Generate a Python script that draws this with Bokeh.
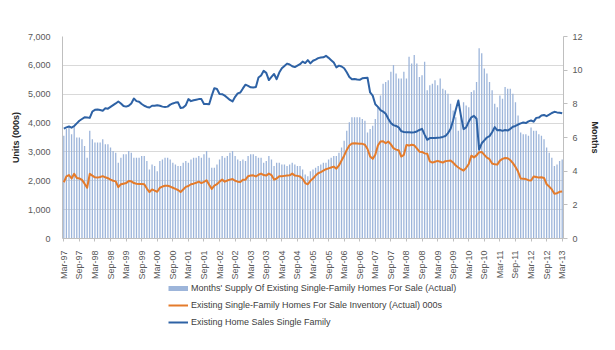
import pandas as pd
from bokeh.plotting import figure
from bokeh.layouts import column
from bokeh.models import (Range1d, LinearAxis, FixedTicker, Legend, LegendItem,
                          NumeralTickFormatter, ColumnDataSource)
from bokeh.embed import file_html
from bokeh.resources import INLINE

# ---------------- data ----------------
months = list(pd.date_range("1997-03-01", "2013-03-01", freq="MS").strftime("%b-%y"))

tick_labels = ["Mar-97", "Sep-97", "Mar-98", "Sep-98", "Mar-99", "Sep-99", "Mar-00", "Sep-00",
               "Mar-01", "Sep-01", "Mar-02", "Sep-02", "Mar-03", "Sep-03", "Mar-04", "Sep-04",
               "Mar-05", "Sep-05", "Mar-06", "Sep-06", "Mar-07", "Sep-07", "Mar-08", "Sep-08",
               "Mar-09", "Sep-09", "Mar-10", "Sep-10", "Mar-11", "Sep-11", "Mar-12", "Sep-12",
               "Mar-13"]

# Months' supply (right axis, months)
supply = [6.1, 6.5, 6.6, 6.2, 6.7, 6.0, 6.0, 5.9, 5.5, 4.8, 6.4, 5.9,
          5.7, 5.7, 5.7, 5.9, 5.6, 5.6, 5.4, 5.2, 5.1, 4.5, 4.8, 5.0,
          5.0, 5.2, 5.1, 4.8, 4.8, 4.8, 4.9, 4.9, 4.6, 4.1, 4.4, 4.3,
          4.0, 4.6, 4.7, 4.8, 4.8, 4.7, 4.5, 4.4, 4.3, 4.3, 4.5, 4.6,
          4.5, 4.7, 4.8, 4.8, 4.9, 4.8, 5.0, 5.2, 4.8, 4.2, 4.2, 4.4,
          4.7, 4.9, 4.8, 4.9, 5.1, 5.2, 4.9, 4.7, 4.6, 4.7, 4.6, 4.9,
          5.0, 5.0, 4.9, 4.8, 4.8, 4.5, 4.6, 4.9, 4.7, 4.3, 4.5, 4.5,
          4.4, 4.4, 4.3, 4.4, 4.5, 4.4, 4.3, 4.3, 4.1, 3.8, 3.7, 4.0,
          4.1, 4.2, 4.3, 4.4, 4.5, 4.5, 4.7, 4.8, 4.9, 4.9, 5.1, 5.4,
          5.8, 6.4, 6.9, 7.2, 7.2, 7.2, 7.2, 7.1, 7.0, 6.3, 6.5, 6.7,
          7.1, 7.8, 8.5, 9.2, 9.3, 9.4, 9.9, 10.3, 9.8, 9.5, 9.5, 9.9,
          9.5, 10.8, 10.4, 10.9, 10.4, 9.6, 9.7, 10.5, 8.8, 9.1, 9.2, 9.4,
          9.1, 9.5, 8.9, 8.8, 8.6, 8.0, 7.6, 7.2, 6.4, 7.3, 8.1, 7.9,
          7.8, 8.7, 8.8, 9.3, 11.3, 11.0, 10.1, 9.8, 9.3, 8.8, 8.0, 7.8,
          8.5, 8.3, 9.0, 8.9, 8.9, 8.6, 8.1, 7.3, 6.3, 6.2, 6.2, 6.1,
          6.6, 6.4, 6.4, 6.2, 6.1, 5.9, 5.4, 5.1, 4.8, 4.3, 4.4, 4.6,
          4.7]

# Existing single-family homes for sale inventory (000s, left axis)
inventory = [1950, 2150, 2200, 2080, 2240, 2100, 2080, 2030, 1900, 1760, 2240, 2180,
             2120, 2110, 2130, 2160, 2120, 2090, 2040, 2000, 1980, 1780, 1880, 1900,
             1920, 1990, 1980, 1920, 1900, 1890, 1890, 1880, 1730, 1610, 1700, 1660,
             1620, 1760, 1800, 1830, 1830, 1800, 1760, 1720, 1680, 1610, 1700, 1790,
             1820, 1880, 1900, 1930, 1970, 1920, 1960, 2020, 1860, 1720, 1830, 1880,
             1970, 2040, 1970, 2010, 2040, 2060, 2000, 1970, 1960, 2040, 2040, 2160,
             2180, 2190, 2150, 2210, 2250, 2200, 2180, 2250, 2200, 2040, 2080, 2160,
             2160, 2170, 2180, 2190, 2250, 2180, 2170, 2150, 2070, 1920, 1880, 2000,
             2080, 2180, 2260, 2300, 2350, 2400, 2430, 2460, 2490, 2420, 2530, 2700,
             2870, 3070, 3220, 3290, 3300, 3290, 3280, 3280, 3250, 3100, 2840, 2760,
             2900, 3220, 3360, 3370, 3300, 3360, 3260, 3130, 3080, 3060, 2840, 2900,
             3240, 3220, 3250, 3230, 3120, 3010, 3000, 2950, 2940, 2670, 2630, 2660,
             2690, 2660, 2630, 2680, 2690, 2700, 2630, 2530, 2460, 2400, 2350, 2450,
             2580, 2870, 2810, 2880, 2990, 3000, 2900, 2800, 2750, 2600, 2570, 2560,
             2700, 2760, 2790, 2780, 2720, 2610, 2480, 2320, 2080, 2070, 2060, 2020,
             2010, 2150, 2130, 2110, 2120, 2100, 1880, 1800, 1700, 1550, 1570, 1620,
             1630]

# Existing home sales, single family (000s, left axis)
sales = [3810, 3850, 3880, 3840, 3900, 3990, 4080, 4140, 4200, 4190, 4180, 4400,
         4460, 4470, 4450, 4430, 4510, 4500, 4560, 4620, 4680, 4750, 4680, 4590,
         4570, 4600, 4680, 4850, 4760, 4740, 4660, 4600, 4560, 4540, 4600, 4600,
         4620, 4600, 4570, 4560, 4570, 4640, 4680, 4710, 4720, 4520, 4540, 4620,
         4830, 4760, 4790, 4810, 4830, 4830, 4660, 4660, 4650, 4950, 5210, 5180,
         5010, 5000, 4950, 4880, 4800, 4750, 4910, 5030, 5060, 5200, 5330, 5290,
         5240, 5230, 5250, 5580, 5650, 5810, 5740, 5490, 5600, 5700, 5520, 5750,
         5900, 5980, 6060, 6030, 5970, 5940, 5990, 6040, 6130, 6080, 6180, 6070,
         6160, 6200, 6250, 6270, 6280, 6330, 6260, 6180, 6100, 5930, 5990, 5960,
         5900, 5760, 5600, 5520, 5530, 5510, 5500, 5550, 5560, 5570, 5060, 4950,
         4650, 4560, 4450, 4400, 4320, 4150, 4000, 3930, 3900, 3850, 3720, 3690,
         3680, 3680, 3670, 3680, 3710, 3760, 3800, 3600, 3420, 3480, 3480, 3480,
         3490, 3500, 3520, 3550, 3650, 3800, 4100, 4460, 4780, 4250, 3790, 3850,
         4050, 4200, 4250, 4150, 3080, 3300, 3400, 3500, 3550, 3680, 3860, 3750,
         3760, 3730, 3760, 3740, 3800, 3870, 3900, 3950, 3990, 4020, 4000, 4060,
         4090, 4050, 4180, 4190, 4260, 4280, 4240, 4290, 4350, 4390, 4370, 4360,
         4340]

# ---------------- styles ----------------
BAR = "#9DB5DA"
ORANGE = "#E47B2B"
BLUE = "#2E62A5"
FONT = "Liberation Sans"
AXIS_GRAY = "#BFBFBF"
LABEL_GRAY = "#595959"

idx = list(range(len(months)))
src = ColumnDataSource(dict(x=idx, month=months, supply=supply,
                            inventory=inventory, sales=sales))

# ---------------- main chart ----------------
p = figure(width=615, height=282,
           x_range=Range1d(-0.5, len(months) - 0.5),
           y_range=Range1d(0, 7000),
           min_border_left=62, min_border_right=52,
           min_border_top=36, min_border_bottom=44,
           output_backend="svg", toolbar_location=None)
p.extra_y_ranges = {"months": Range1d(0, 12)}

p.outline_line_color = None
p.background_fill_color = "white"
p.border_fill_color = "white"
p.xgrid.visible = False
p.ygrid.grid_line_color = "#D9D9D9"
p.ygrid.grid_line_width = 1

bars = p.vbar(x="x", top="supply", width=0.5, source=src, y_range_name="months",
              fill_color=BAR, line_color=None)
inv_line = p.line("x", "inventory", source=src, line_color=ORANGE, line_width=2,
                  line_join="round")
sales_line = p.line("x", "sales", source=src, line_color=BLUE, line_width=2,
                    line_join="round")

# x axis
xa = p.xaxis[0]
xa.ticker = FixedTicker(ticks=[i * 6 for i in range(len(tick_labels))])
xa.major_label_overrides = {i * 6: lab for i, lab in enumerate(tick_labels)}
xa.major_label_orientation = 1.5708
xa.major_label_text_font = FONT
xa.major_label_text_font_size = "9px"
xa.major_label_text_color = LABEL_GRAY
xa.major_label_standoff = 9
xa.axis_line_color = AXIS_GRAY
xa.major_tick_line_color = AXIS_GRAY
xa.major_tick_out = 3
xa.major_tick_in = 0
xa.minor_tick_line_color = None

# left axis
ya = p.yaxis[0]
ya.ticker = FixedTicker(ticks=[0, 1000, 2000, 3000, 4000, 5000, 6000, 7000])
ya.formatter = NumeralTickFormatter(format="0,0")
ya.axis_label = "Units (000s)"
ya.axis_label_text_font = FONT
ya.axis_label_text_font_size = "9px"
ya.axis_label_text_font_style = "bold"
ya.axis_label_text_color = "#262626"
ya.axis_label_standoff = 4
ya.major_label_text_font = FONT
ya.major_label_text_font_size = "9px"
ya.major_label_text_color = LABEL_GRAY
ya.major_label_standoff = 6
ya.axis_line_color = AXIS_GRAY
ya.major_tick_line_color = None
ya.minor_tick_line_color = None

# right axis
ra = LinearAxis(y_range_name="months", ticker=FixedTicker(ticks=[0, 2, 4, 6, 8, 10, 12]))
ra.axis_label = "Months"
ra.axis_label_text_font = FONT
ra.axis_label_text_font_size = "9px"
ra.axis_label_text_font_style = "bold"
ra.axis_label_text_color = "#262626"
ra.axis_label_standoff = 4
ra.major_label_text_font = FONT
ra.major_label_text_font_size = "9px"
ra.major_label_text_color = LABEL_GRAY
ra.major_label_standoff = 5
ra.axis_line_color = AXIS_GRAY
ra.major_tick_line_color = AXIS_GRAY
ra.major_tick_out = 4
ra.major_tick_in = 0
ra.minor_tick_line_color = None
p.add_layout(ra, "right")

# ---------------- legend strip below the chart ----------------
lf = figure(width=615, height=68, x_range=Range1d(0, 1), y_range=Range1d(0, 1),
            x_axis_location=None, y_axis_location=None,
            min_border=0, output_backend="svg", toolbar_location=None)
lf.grid.visible = False
lf.outline_line_color = None
lf.background_fill_color = "white"
lf.border_fill_color = "white"

# hidden copies of the series, used only for the legend swatches
sw_bar = lf.line("x", "supply", source=src, line_color=BAR, line_width=5, visible=False)
sw_inv = lf.line("x", "inventory", source=src, line_color=ORANGE, line_width=2, visible=False)
sw_sales = lf.line("x", "sales", source=src, line_color=BLUE, line_width=2, visible=False)

legend = Legend(items=[
    LegendItem(label="Months' Supply Of Existing Single-Family Homes For Sale (Actual)",
               renderers=[sw_bar]),
    LegendItem(label="Existing Single-Family Homes For Sale Inventory (Actual) 000s",
               renderers=[sw_inv]),
    LegendItem(label="Existing Home Sales Single Family", renderers=[sw_sales]),
], location=(106, 22), orientation="vertical", padding=0, margin=0, spacing=5,
   glyph_width=20, glyph_height=12, label_height=12, label_standoff=3,
   label_text_font=FONT, label_text_font_size="9px", label_text_color="#404040",
   inactive_fill_alpha=0,
   border_line_color=None, background_fill_alpha=0)
lf.add_layout(legend)

layout = column(p, lf, spacing=0)
open("out.html", "w").write(file_html(layout, INLINE))
